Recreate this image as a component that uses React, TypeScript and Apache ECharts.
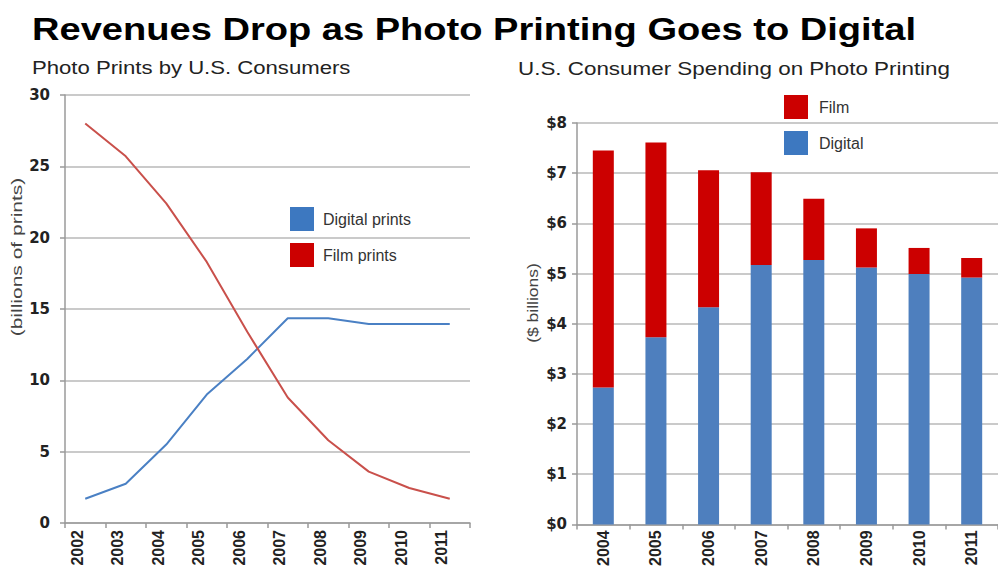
import React, { useEffect, useRef } from 'react';
import * as echarts from 'echarts';

// ---- data ----
const printYears = ['2002', '2003', '2004', '2005', '2006', '2007', '2008', '2009', '2010', '2011'];
const digitalPrints = [1.7, 2.75, 5.5, 9.0, 11.5, 14.35, 14.35, 13.95, 13.95, 13.95];
const filmPrints = [28.0, 25.7, 22.4, 18.3, 13.4, 8.8, 5.8, 3.6, 2.45, 1.7];

const spendYears = ['2004', '2005', '2006', '2007', '2008', '2009', '2010', '2011'];
const digitalSpend = [2.73, 3.73, 4.33, 5.17, 5.27, 5.12, 4.99, 4.92];
const filmSpend = [4.72, 3.88, 2.73, 1.85, 1.22, 0.78, 0.52, 0.39];

const mainTitle = 'Revenues Drop as Photo Printing Goes to Digital';
const leftTitle = 'Photo Prints by U.S. Consumers';
const rightTitle = 'U.S. Consumer Spending on Photo Printing';
const leftYName = '(billions of prints)';
const rightYName = '($ billions)';

const SANS = '"Liberation Sans", Arial, Helvetica, sans-serif';
const WIDE = '"DejaVu Sans", "Liberation Sans", sans-serif';

export default function App() {
  const ref = useRef<HTMLDivElement>(null);

  useEffect(() => {
    if (!ref.current) return;
    const chart = echarts.init(ref.current, null, { renderer: 'svg' });

    const axisLineStyle = { color: '#9a9a9a', width: 1.5 };
    const gridLineStyle = { color: '#b8b8b8', width: 1.5 };
    const yLabel = { color: '#222', fontSize: 15, fontWeight: 'bold' as const, fontFamily: WIDE };
    const xLabel = { color: '#222', fontSize: 16, fontWeight: 'bold' as const, fontFamily: SANS };

    chart.setOption({
      animation: false,
      backgroundColor: '#ffffff',
      grid: [
        { left: 65, top: 95, width: 405, height: 428 },
        { left: 577, top: 123, width: 433, height: 402 },
      ],
      xAxis: [
        {
          gridIndex: 0,
          type: 'category',
          data: printYears,
          boundaryGap: true,
          axisLine: { lineStyle: axisLineStyle },
          axisTick: { show: true, length: 5, lineStyle: axisLineStyle },
          axisLabel: { ...xLabel, rotate: 90, margin: 7, interval: 0, verticalAlign: 'bottom' },
          splitLine: { show: false },
        },
        {
          gridIndex: 1,
          type: 'category',
          data: spendYears,
          boundaryGap: true,
          axisLine: { lineStyle: axisLineStyle },
          axisTick: { show: true, length: 5, lineStyle: axisLineStyle },
          axisLabel: { ...xLabel, rotate: 90, margin: 6, interval: 0 },
          splitLine: { show: false },
        },
      ],
      yAxis: [
        {
          gridIndex: 0,
          type: 'value',
          min: 0,
          max: 30,
          interval: 5,
          axisLine: { show: true, lineStyle: axisLineStyle },
          axisTick: { show: true, length: 5, lineStyle: axisLineStyle },
          axisLabel: { ...yLabel, margin: 15 },
          splitLine: { show: true, lineStyle: gridLineStyle },
        },
        {
          gridIndex: 1,
          type: 'value',
          min: 0,
          max: 8,
          interval: 1,
          axisLine: { show: true, lineStyle: axisLineStyle },
          axisTick: { show: true, length: 5, lineStyle: axisLineStyle },
          axisLabel: { ...yLabel, margin: 10, formatter: (v: number) => '$' + v },
          splitLine: { show: true, lineStyle: gridLineStyle },
        },
      ],
      legend: [
        {
          left: 290,
          top: 207,
          padding: 0,
          orient: 'vertical',
          icon: 'rect',
          itemWidth: 24,
          itemHeight: 24,
          itemGap: 12,
          selectedMode: false,
          textStyle: { fontSize: 16, color: '#333', fontFamily: SANS, padding: [0, 0, 0, 4] },
          data: [
            { name: 'Digital prints', itemStyle: { color: '#3D78C0' } },
            { name: 'Film prints', itemStyle: { color: '#CC0000' } },
          ],
        },
        {
          left: 784,
          top: 95,
          padding: 0,
          orient: 'vertical',
          icon: 'rect',
          itemWidth: 24,
          itemHeight: 24,
          itemGap: 12,
          selectedMode: false,
          textStyle: { fontSize: 16, color: '#333', fontFamily: SANS, padding: [0, 0, 0, 6] },
          data: [
            { name: 'Film', itemStyle: { color: '#CC0000' } },
            { name: 'Digital', itemStyle: { color: '#3D78C0' } },
          ],
        },
      ],
      series: [
        {
          name: 'Digital prints',
          type: 'line',
          xAxisIndex: 0,
          yAxisIndex: 0,
          data: digitalPrints,
          symbol: 'none',
          color: '#4A80C4',
          lineStyle: { color: '#4A80C4', width: 2 },
        },
        {
          name: 'Film prints',
          type: 'line',
          xAxisIndex: 0,
          yAxisIndex: 0,
          data: filmPrints,
          symbol: 'none',
          color: '#C9504B',
          lineStyle: { color: '#C9504B', width: 2 },
        },
        {
          name: 'Digital',
          type: 'bar',
          xAxisIndex: 1,
          yAxisIndex: 1,
          stack: 'spend',
          barWidth: 21,
          data: digitalSpend,
          itemStyle: { color: '#4E7FBE' },
        },
        {
          name: 'Film',
          type: 'bar',
          xAxisIndex: 1,
          yAxisIndex: 1,
          stack: 'spend',
          barWidth: 21,
          data: filmSpend,
          itemStyle: { color: '#CC0000' },
        },
      ],
      graphic: [
        {
          type: 'text',
          x: 32,
          y: 29,
          scaleX: 1.19,
          style: {
            text: mainTitle,
            font: `bold 32px ${SANS}`,
            fill: '#000',
            align: 'left',
            textAlign: 'left',
            verticalAlign: 'middle',
            textVerticalAlign: 'middle',
          },
        },
        {
          type: 'text',
          x: 32,
          y: 68,
          scaleX: 1.23,
          style: {
            text: leftTitle,
            font: `18px ${SANS}`,
            fill: '#222',
            align: 'left',
            textAlign: 'left',
            verticalAlign: 'middle',
            textVerticalAlign: 'middle',
          },
        },
        {
          type: 'text',
          x: 518,
          y: 68.5,
          scaleX: 1.245,
          style: {
            text: rightTitle,
            font: `18px ${SANS}`,
            fill: '#222',
            align: 'left',
            textAlign: 'left',
            verticalAlign: 'middle',
            textVerticalAlign: 'middle',
          },
        },
        {
          type: 'text',
          x: 17,
          y: 257,
          rotation: Math.PI / 2,
          scaleX: 1.5,
          style: {
            text: leftYName,
            font: `14px ${SANS}`,
            fill: '#444',
            align: 'center',
            textAlign: 'center',
            verticalAlign: 'middle',
            textVerticalAlign: 'middle',
          },
        },
        {
          type: 'text',
          x: 533,
          y: 303,
          rotation: Math.PI / 2,
          scaleX: 1.25,
          style: {
            text: rightYName,
            font: `14px ${SANS}`,
            fill: '#444',
            align: 'center',
            textAlign: 'center',
            verticalAlign: 'middle',
            textVerticalAlign: 'middle',
          },
        },
      ],
    });

    return () => chart.dispose();
  }, []);

  return (
    <div
      ref={ref}
      style={{ position: 'fixed', left: 0, top: 0, width: 998, height: 569, background: '#fff' }}
    />
  );
}
